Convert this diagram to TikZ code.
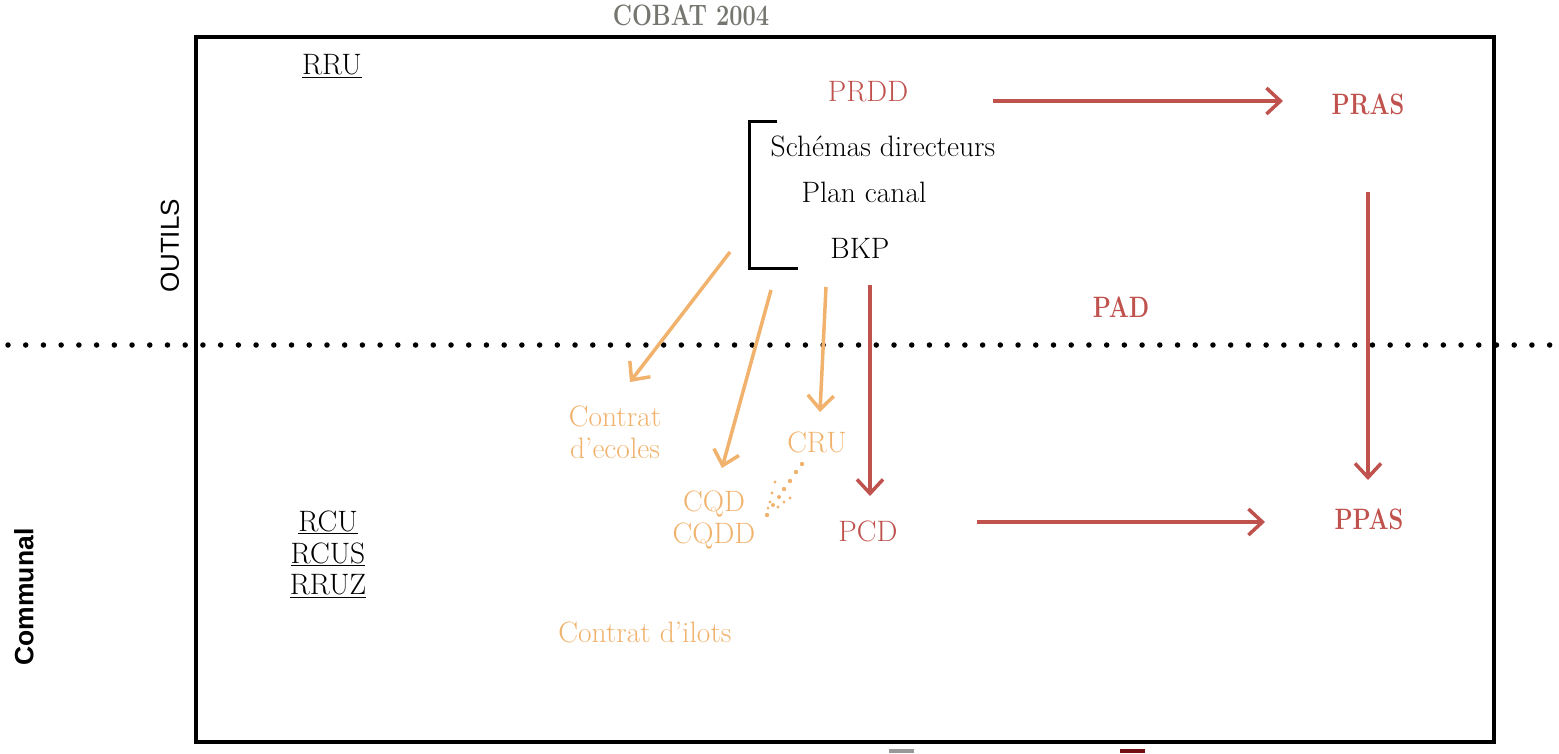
\documentclass[tikz,border=0pt]{standalone}
\usepackage{fontspec}
\newfontfamily\helv{Liberation Sans}
\usetikzlibrary{arrows.meta}
\definecolor{redc}{RGB}{192,82,78}
\definecolor{orac}{RGB}{240,178,108}
\definecolor{grayc}{RGB}{118,118,112}
\definecolor{darkred}{RGB}{115,15,20}
\newcommand{\narrowbf}[1]{\scalebox{0.8}[1]{\bfseries #1}}
\tikzset{
  lbl/.style={font=\fontsize{29.5}{32}\selectfont, inner sep=0pt, anchor=center},
  redlbl/.style={lbl, text=redc},
  redbold/.style={lbl, text=redc},
  oralbl/.style={lbl, text=orac},
  redarrow/.style={draw=redc, line width=3.5pt, -{Straight Barb[length=14pt,width=26pt,line width=3.5pt]}},
  oraarrow/.style={draw=orac, line width=3.5pt, -{Straight Barb[length=14pt,width=26pt,line width=3.5pt]}},
}
\begin{document}
\begin{tikzpicture}[x=1pt,y=-1pt]
\useasboundingbox (0,0) rectangle (1559,753);
% frame
\draw[line width=4pt] (196,37) rectangle (1494,742);
% dotted separator
\draw[line width=5.5pt, line cap=round, dash pattern=on 0pt off 17.72pt] (8,345) -- (1552,345);
% title
\node[lbl, text=grayc] (cobat) at (691,15) {\narrowbf{COBAT 2004}};
% side labels
\node[lbl, rotate=90, font=\helv\fontsize{26}{28}\selectfont] (outils) at (170,246) {OUTILS};
\node[lbl, rotate=90, font=\helv\bfseries\fontsize{26.5}{28}\selectfont] (communal) at (24,597) {Communal};
% black labels
\node[lbl] (rru) at (332,66) {\underline{RRU}};
\node[lbl] (schemas) at (883,146) {Schémas directeurs};
\node[lbl] (plan) at (864,192) {Plan canal};
\node[lbl] (bkp) at (860,248) {BKP};
\node[lbl] (rcu) at (328,522) {\underline{RCU}};
\node[lbl] (rcus) at (328,554) {\underline{RCUS}};
\node[lbl] (rruz) at (328,586) {\underline{RRUZ}};
% bracket
\coordinate (bt) at (777,121);
\coordinate (bb) at (798,268);
\draw[line width=3pt] (bt) -- (749,121) -- (749,268) -- (bb);
% red labels
\node[redlbl] (prdd) at (868,92) {PRDD};
\node[redbold] (pras) at (1368,104) {\narrowbf{PRAS}};
\node[redbold] (pad) at (1121,307) {\narrowbf{PAD}};
\node[redlbl] (pcd) at (868,531) {PCD};
\node[redbold] (ppas) at (1369,519) {\narrowbf{PPAS}};
% orange labels
\node[oralbl, align=center] (ecoles) at (615,432) {Contrat\\d’ecoles};
\node[oralbl] (cru) at (817,442) {CRU};
\node[oralbl, align=center] (cqd) at (714,520) {CQD\\CQDD};
\node[oralbl] (ilots) at (645,632) {Contrat d’ilots};
% red arrows
\coordinate (a1s) at (993,101);
\coordinate (a1e) at (1283,101);
\draw[redarrow] (a1s) -- (a1e);
\coordinate (a2s) at (1368,192);
\coordinate (a2e) at (1368,480);
\draw[redarrow] (a2s) -- (a2e);
\coordinate (a3s) at (870,285);
\coordinate (a3e) at (870,496);
\draw[redarrow] (a3s) -- (a3e);
\coordinate (a4s) at (977,522);
\coordinate (a4e) at (1265,522);
\draw[redarrow] (a4s) -- (a4e);
% orange arrows
\coordinate (o1s) at (730,252);
\coordinate (o1e) at (630,382);
\draw[oraarrow] (o1s) -- (o1e);
\coordinate (o2s) at (771,290);
\coordinate (o2e) at (722,468);
\draw[oraarrow] (o2s) -- (o2e);
\coordinate (o3s) at (826,287);
\coordinate (o3e) at (820,412);
\draw[oraarrow] (o3s) -- (o3e);
% dotted cluster between CRU and CQD
\foreach \x/\y/\r in {802/464/2.2, 796/472/2.2, 790/481/2.2, 784/489/2.2, 779/497/2, 773/505/2, 767/515/2.2, 775/482/1.6, 772/493/1.6, 770/502/1.6, 790/498/1.6, 784/502/1.6, 778/507/1.6, 768/508/1.5}
  \fill[orac] (\x,\y) circle (\r);
% bottom cut-off marks
\fill[gray!80] (889,749) rectangle (914,753);
\fill[darkred] (1120,749) rectangle (1145,753);
\end{tikzpicture}
\end{document}
